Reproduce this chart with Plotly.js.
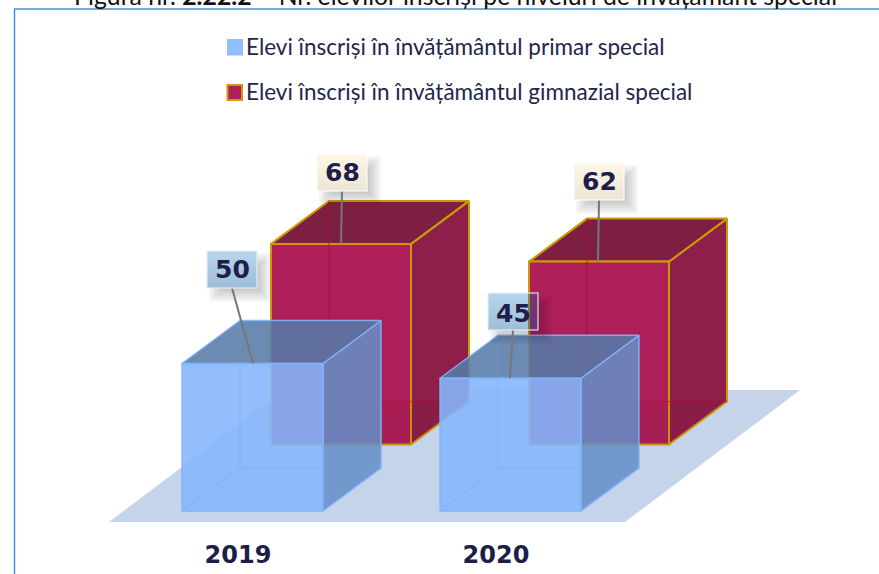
<!DOCTYPE html>
<html>
<head>
<meta charset="utf-8">
<script src="https://cdn.plot.ly/plotly-3.0.1.min.js"></script>
<style>html,body{margin:0;padding:0;background:#fff;overflow:hidden}#c{width:879px;height:574px}</style>
</head>
<body>
<div id="c"></div>
<script>
const categories = ['2019', '2020'];
const primarValues = [50, 45];
const gimnazialValues = [68, 62];
const primarName = 'Elevi înscriși în învățământul primar special';
const gimnazialName = 'Elevi înscriși în învățământul gimnazial special';
const titleText = 'Figura nr. <b>2.22.2</b> – Nr. elevilor înscriși pe niveluri de învățământ special';

const W = 879, H = 574, MB = 36;
const PX = 2.95;                 // screen pixels per unit of value
const BASE_PX = 511;             // screen row of value 0 on the front row
const v = px => (BASE_PX - px) / PX;
const DX = 58, DV = 43 / PX;     // oblique depth
const CAT_STEP = 258, ROW_DX = 89, ROW_DV = 66.5 / PX, FRONT_X = 182;
const py = px => (H - MB - px) / (H - MB);

const traces = [];
function poly(pts, fill, line, width, grad) {
  const x = pts.map(p => p[0]), y = pts.map(p => p[1]);
  const closed = fill || grad;
  if (closed) { x.push(x[0]); y.push(y[0]); }
  const t = { type: 'scatter', mode: 'lines', x, y, hoverinfo: 'skip', showlegend: false,
    line: { color: line || 'rgba(0,0,0,0)', width: width || 0 } };
  if (closed) { t.fill = 'toself'; t.fillcolor = fill || 'rgba(0,0,0,0)'; }
  if (grad) t.fillgradient = grad;
  traces.push(t);
}
const vgrad = (top, bottom) => ({ type: 'vertical', colorscale: [[0, bottom], [1, top]] });

// floor
poly([[109, v(522)], [625, v(522)], [800, v(390)], [284, v(390)]], '#c5d4ea');

function box(cat, row, value, s) {
  const x0 = FRONT_X + CAT_STEP * cat + ROW_DX * row, w = s.w;
  const b = ROW_DV * row, t = b + value;
  // faces
  poly([[x0 + w, b], [x0 + w + DX, b + DV], [x0 + w + DX, t + DV], [x0 + w, t]], s.side, s.edge, s.ew);
  poly([[x0, t], [x0 + w, t], [x0 + w + DX, t + DV], [x0 + DX, t + DV]], s.top, s.edge, s.ew);
  poly([[x0, b], [x0 + w, b], [x0 + w, t], [x0, t]], s.front, s.edge, s.ew);
  if (s.under) poly([[x0 + w + DX, b + DV], [x0 + DX, b + DV], [x0, b], [x0 + w, b]], s.under);
  // inner, see-through edges
  poly([[x0 + DX, t + DV], [x0 + DX, b + DV]], null, s.inner, 1.5);
  poly([[x0, b], [x0 + DX, b + DV], [x0 + w + DX, b + DV]], null, s.inner, 1.5);
}

const redStyle = {
  w: 140, edge: '#cc9a06', ew: 2, inner: 'rgba(175,10,45,0.5)',
  side: '#8d1f4a', top: '#7d1f42', front: '#ae1f59', under: 'rgba(110,0,40,0.06)'
};
const blueStyle = {
  w: 141, edge: 'rgba(128,180,250,0.9)', ew: 1.5, inner: 'rgba(110,165,240,0.2)',
  side: 'rgba(101,143,199,0.87)', top: 'rgba(87,123,169,0.88)', front: 'rgba(132,182,252,0.89)'
};

gimnazialValues.forEach((val, i) => box(i, 1, val, redStyle));
primarValues.forEach((val, i) => box(i, 0, val, blueStyle));

// value labels: soft shadow (never under the box itself), leader, box
const annotations = [];
function valueLabel(cat, row, value, lx, ly, ax, warm, textShift) {
  const bw = 50, bh = 37;
  const x0 = FRONT_X + CAT_STEP * cat + ROW_DX * row;
  const top = ROW_DV * row + value;
  const r = lx + bw, b = ly + bh;
  const rect = (l, t, rr, bb) => [[l, v(t)], [rr, v(t)], [rr, v(bb)], [l, v(bb)]];
  for (let g = 6; g >= -6; g -= 2) {
    const sl = lx + 8 - g, st = ly + 8 - g, sr = r + 8 + g, sb = b + 8 + g;
    poly([[r, v(st)], [sr, v(st)], [sr, v(sb)], [sl, v(sb)], [sl, v(b)], [r, v(b)]], 'rgba(0,0,0,0.032)');
  }
  poly([[lx + bw / 2, v(b)], [x0 + ax, top]], null, '#777777', 2);
  const grad = warm
    ? vgrad('#fff7e6', '#ece5d5')
    : vgrad('rgba(0,103,181,0.28)', 'rgba(0,82,150,0.38)');
  poly(rect(lx, ly, r, b), warm ? '#f5eedd' : 'rgba(0,103,181,0.31)',
    warm ? 'rgba(255,255,255,0.7)' : 'rgba(225,238,248,0.75)', 1.5, grad);
  annotations.push({ xref: 'x', yref: 'y', x: lx + bw / 2, y: v(ly + bh / 2 + textShift), text: String(value), showarrow: false,
    font: { family: 'DejaVu Sans', size: 25, color: '#1c2048', weight: 'bold' } });
}
valueLabel(0, 0, primarValues[0], 207, 251, 71, false, 0);
valueLabel(0, 1, gimnazialValues[0], 317, 154, 70, true, 0);
valueLabel(1, 0, primarValues[1], 488, 293, 70, false, 2);
valueLabel(1, 1, gimnazialValues[1], 574, 163, 69, true, 0);

// legend
const legendFont = { family: 'Lato', size: 22.5, color: '#23254a' };
annotations.push({ xref: 'x', yref: 'y', x: 244, y: v(46), xanchor: 'left', text: primarName, showarrow: false, font: legendFont });
annotations.push({ xref: 'x', yref: 'y', x: 244, y: v(91), xanchor: 'left', text: gimnazialName, showarrow: false, font: legendFont });
// title, cut by the top of the page as in the source
annotations.push({ xref: 'paper', yref: 'paper', x: 456 / W, y: py(-5), xanchor: 'center', yanchor: 'middle', text: titleText, showarrow: false,
  font: { family: 'Lato', size: 24.8, color: '#111' } });

const shapes = [
  { type: 'line', xref: 'paper', yref: 'paper', x0: 14.5 / W, x1: 14.5 / W, y0: py(9), y1: py(574), line: { color: '#3f93cf', width: 1.5 } },
  { type: 'line', xref: 'paper', yref: 'paper', x0: 14 / W, x1: 1, y0: py(9), y1: py(9), line: { color: '#3f93cf', width: 1.5 } },
  { type: 'rect', xref: 'paper', yref: 'paper', x0: 227 / W, x1: 243 / W, y0: py(39), y1: py(55.5), fillcolor: '#92befc', line: { width: 0 } },
  { type: 'rect', xref: 'paper', yref: 'paper', x0: 227.5 / W, x1: 242 / W, y0: py(85), y1: py(100), fillcolor: '#ae1f59', line: { color: '#cc9a06', width: 2 } }
];

const layout = {
  width: W, height: H, autosize: false,
  margin: { l: 0, r: 0, t: 0, b: MB, pad: 0 },
  paper_bgcolor: '#ffffff', plot_bgcolor: 'rgba(0,0,0,0)',
  showlegend: false, hovermode: false,
  xaxis: { range: [0, W], showgrid: false, zeroline: false, showline: false, ticks: '', fixedrange: true,
    tickmode: 'array', tickvals: categories.map((c, i) => FRONT_X + CAT_STEP * i + 56), ticktext: categories,
    tickfont: { family: 'DejaVu Sans', size: 24, color: '#1c2048', weight: 'bold' } },
  yaxis: { range: [v(H - MB), v(0)], visible: false, fixedrange: true },
  annotations, shapes
};
Plotly.newPlot('c', traces, layout, { staticPlot: true, displayModeBar: false });
</script>
</body>
</html>
